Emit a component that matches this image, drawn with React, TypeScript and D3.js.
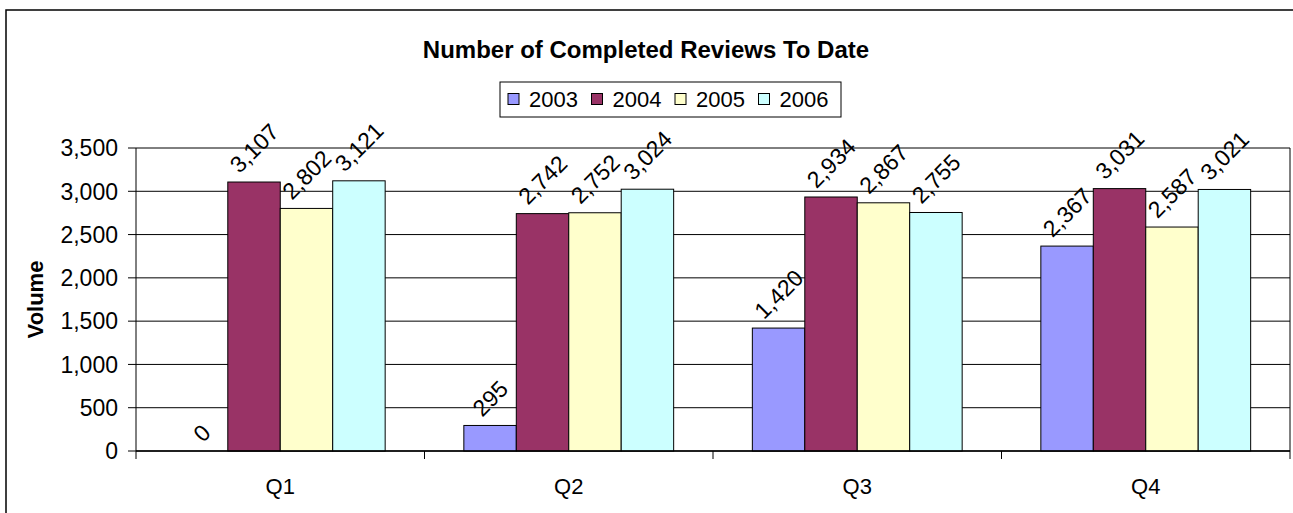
import React from 'react';
import * as d3 from 'd3';

const categories = ['Q1', 'Q2', 'Q3', 'Q4'];
const seriesNames = ['2003', '2004', '2005', '2006'];
const values2003 = [0, 295, 1420, 2367];
const values2004 = [3107, 2742, 2934, 3031];
const values2005 = [2802, 2752, 2867, 2587];
const values2006 = [3121, 3024, 2755, 3021];
const yTicks = [0, 500, 1000, 1500, 2000, 2500, 3000, 3500];
const colors = ['#9999FF', '#993366', '#FFFFCC', '#CCFFFF'];

const seriesValues = [values2003, values2004, values2005, values2006];

const W = 1293;
const H = 513;
const FONT = '"Liberation Sans", Arial, sans-serif';
const FS = 22;
const LABEL_FS = 23;

const App = () => {
  const plot = { left: 136, right: 1290, top: 148, bottom: 451 };

  const x0 = d3.scaleBand<string>().domain(categories).range([plot.left, plot.right]).padding(0);
  const x1 = d3
    .scaleBand<string>()
    .domain(seriesNames)
    .range([0, x0.bandwidth()])
    .paddingInner(0)
    .paddingOuter(0.75);
  const y = d3.scaleLinear().domain([0, 3500]).range([plot.bottom, plot.top]);
  const fmt = d3.format(',');

  // rough text length for the rotated labels
  const textLen = (s: string) =>
    s.split('').reduce((a, c) => a + (c === ',' ? 0.278 : 0.556), 0) * LABEL_FS;

  const boundaries = categories.map((c) => x0(c) as number).concat([plot.right]);

  // legend
  const legend = { x: 500, y: 82, w: 341, h: 35 };
  const legendStep = 83.5;

  return (
    <svg
      width={W}
      height={H}
      style={{ position: 'absolute', left: 0, top: 0, background: '#fff' }}
      fontFamily={FONT}
    >
      <rect x={0} y={0} width={W} height={H} fill="#fff" />
      {/* chart frame, cropped at right and bottom */}
      <rect x={6} y={10} width={W + 20} height={H + 20} fill="none" stroke="#000" strokeWidth={1.5} />

      <text x={646} y={58} textAnchor="middle" fontSize={24} fontWeight="bold" fill="#000">
        Number of Completed Reviews To Date
      </text>

      {/* legend */}
      <rect
        x={legend.x}
        y={legend.y}
        width={legend.w}
        height={legend.h}
        fill="#fff"
        stroke="#000"
        strokeWidth={1}
      />
      {seriesNames.map((s, i) => (
        <g key={s} transform={`translate(${legend.x + 8 + i * legendStep},${legend.y + legend.h / 2})`}>
          <rect x={0} y={-6} width={11} height={11} fill={colors[i]} stroke="#000" strokeWidth={1} />
          <text x={21} y={0} dy="0.36em" fontSize={FS} fill="#000">
            {s}
          </text>
        </g>
      ))}

      {/* gridlines */}
      {yTicks.map((t) => (
        <line key={'g' + t} x1={plot.left} x2={plot.right} y1={y(t)} y2={y(t)} stroke="#000" strokeWidth={1} />
      ))}
      {/* plot area right border */}
      <line x1={plot.right} x2={plot.right} y1={plot.top} y2={plot.bottom} stroke="#000" strokeWidth={1} />

      {/* bars */}
      {categories.map((c, ci) => (
        <g key={c} transform={`translate(${x0(c)},0)`}>
          {seriesNames.map((s, si) => {
            const v = seriesValues[si][ci];
            const bx = x1(s) as number;
            return v > 0 ? (
              <rect
                key={s}
                x={bx}
                y={y(v)}
                width={x1.bandwidth()}
                height={y(0) - y(v)}
                fill={colors[si]}
                stroke="#000"
                strokeWidth={1}
              />
            ) : null;
          })}
        </g>
      ))}

      {/* data labels */}
      {categories.map((c, ci) =>
        seriesNames.map((s, si) => {
          const v = seriesValues[si][ci];
          const label = fmt(v);
          const cx = (x0(c) as number) + (x1(s) as number) + x1.bandwidth() / 2;
          const cy = y(v) - 8 - (textLen(label) + 16) * 0.3535;
          return (
            <text
              key={c + s}
              transform={`translate(${cx},${cy}) rotate(-45)`}
              textAnchor="middle"
              dy="0.36em"
              fontSize={LABEL_FS}
              fill="#000"
            >
              {label}
            </text>
          );
        })
      )}

      {/* y axis */}
      <line x1={plot.left} x2={plot.left} y1={plot.top} y2={plot.bottom} stroke="#000" strokeWidth={1} />
      {yTicks.map((t) => (
        <g key={'t' + t}>
          <line x1={plot.left - 8} x2={plot.left} y1={y(t)} y2={y(t)} stroke="#000" strokeWidth={1} />
          <text x={plot.left - 18} y={y(t)} dy="0.36em" textAnchor="end" fontSize={LABEL_FS} fill="#000">
            {fmt(t)}
          </text>
        </g>
      ))}
      <text
        transform={`translate(35,${(plot.top + plot.bottom) / 2}) rotate(-90)`}
        textAnchor="middle"
        dy="0.36em"
        fontSize={FS}
        fontWeight="bold"
        fill="#000"
      >
        Volume
      </text>

      {/* x axis */}
      <line x1={plot.left} x2={plot.right} y1={plot.bottom} y2={plot.bottom} stroke="#000" strokeWidth={1.5} />
      {boundaries.map((b, i) => (
        <line key={'b' + i} x1={b} x2={b} y1={plot.bottom} y2={plot.bottom + 8} stroke="#000" strokeWidth={1} />
      ))}
      {categories.map((c) => (
        <text
          key={'c' + c}
          x={(x0(c) as number) + x0.bandwidth() / 2}
          y={494}
          textAnchor="middle"
          fontSize={FS}
          fill="#000"
        >
          {c}
        </text>
      ))}
    </svg>
  );
};

export default App;
